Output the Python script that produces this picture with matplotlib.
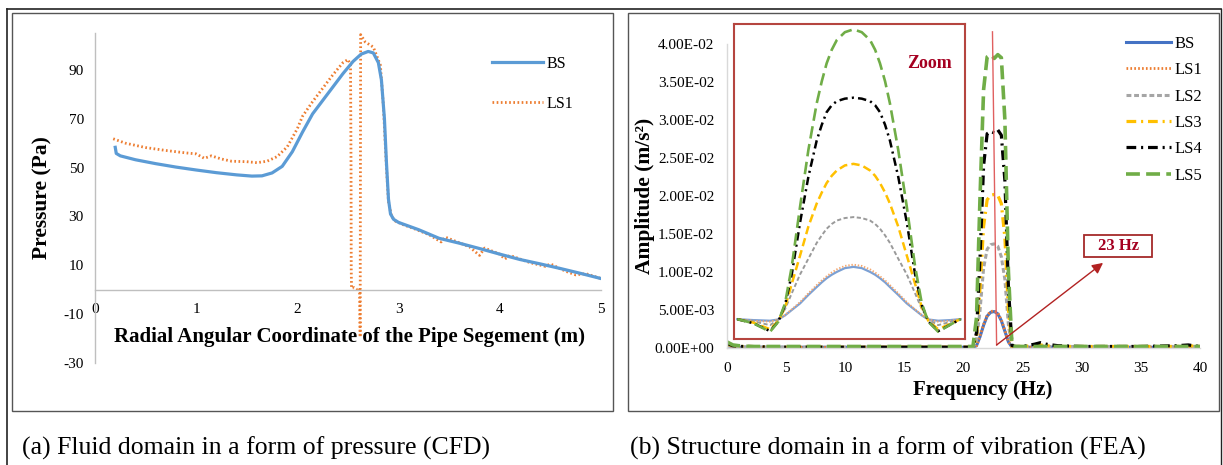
import matplotlib
matplotlib.use("Agg")
import matplotlib.pyplot as plt
from matplotlib.lines import Line2D
from matplotlib.patches import Rectangle

plt.rcParams['font.family'] = ['Liberation Serif', 'DejaVu Serif']
plt.rcParams['lines.scale_dashes'] = False
plt.rcParams['axes.unicode_minus'] = False

# ---------------- data: (a) pressure along pipe segment ----------------
bs_x = [0.20, 0.21, 0.25, 0.4, 0.6, 0.8, 1.0, 1.2, 1.4, 1.55, 1.65, 1.75, 1.85, 1.95,
        2.05, 2.15, 2.25, 2.35, 2.45, 2.55, 2.63, 2.70, 2.75, 2.80, 2.83, 2.86, 2.88,
        2.90, 2.92, 2.95, 3.0, 3.2, 3.4, 3.6, 3.8, 4.0, 4.2, 4.4, 4.6, 4.8, 5.0]
bs_y = [58.3, 55.8, 54.8, 53.2, 51.6, 50.2, 49.0, 47.9, 47.0, 46.5, 46.6, 47.8, 50.5, 56.5,
        64.5, 72.0, 77.5, 83.0, 88.5, 93.5, 96.5, 97.6, 97.0, 93.0, 86.0, 70.0, 52.0,
        37.0, 31.0, 28.8, 27.5, 24.5, 21.0, 19.0, 16.8, 14.5, 12.3, 10.5, 8.6, 6.6, 4.5]

ls1_x = [0.18, 0.3, 0.5, 0.7, 0.9, 1.0, 1.08, 1.15, 1.25, 1.35, 1.5, 1.6, 1.7, 1.8, 1.9,
         2.0, 2.05, 2.15, 2.25, 2.35, 2.45, 2.50, 2.525, 2.53, 2.532, 2.535, 2.56, 2.59,
         2.615, 2.62, 2.625, 2.67, 2.75, 2.82, 2.85, 2.88, 2.90, 2.93, 2.97, 3.05, 3.15,
         3.3, 3.42, 3.46, 3.55, 3.7, 3.8, 3.85, 4.0, 4.05, 4.1, 4.3, 4.45, 4.5, 4.65,
         4.75, 4.85, 5.0]
ls1_y = [61.8, 60.0, 58.2, 57.0, 56.0, 55.6, 53.8, 54.8, 53.5, 52.6, 52.4, 52.0, 52.6, 54.5,
         58.5, 66.0, 71.0, 77.0, 82.5, 88.0, 93.0, 94.3, 92.0, 50.0, 8.0, 0.5, 0.8, 0.0,
         0.5, -19.5, 104.5, 101.5, 99.4, 92.0, 75.0, 50.0, 36.0, 30.0, 28.0, 26.5, 25.0,
         22.5, 19.5, 21.5, 20.0, 17.5, 14.0, 17.0, 14.5, 12.5, 14.0, 11.0, 9.5, 10.5, 7.5,
         6.0, 6.5, 4.5]

press_yticks = [-30, -10, 10, 30, 50, 70, 90]
press_xticks = [0, 1, 2, 3, 4, 5]

# ---------------- data: (b) vibration spectrum ----------------
freq = [0, 0.5, 1, 2, 4, 6, 8, 10, 12, 14, 16, 18, 20, 20.8, 21.1, 21.4, 21.7, 22.0,
        22.3, 22.6, 22.9, 23.2, 23.5, 23.8, 24.1, 24.4, 25, 26, 26.5, 27, 28, 30, 32,
        35, 38, 39, 40]
amp_bs = [0.0003, 0.0002, 0.0001, 0.0001, 0.0001, 0.0001, 0.0001, 0.0001, 0.0001, 0.0001,
          0.0001, 0.0001, 0.0001, 0.0001, 0.0003, 0.0015, 0.0030, 0.0042, 0.0047, 0.0048,
          0.0045, 0.0036, 0.0022, 0.0008, 0.0001, 0.0001, 0.0001, 0.0001, 0.0001, 0.0001,
          0.0001, 0.0001, 0.0001, 0.0001, 0.0001, 0.0001, 0.0001]
amp_ls1 = [0.0003, 0.0002, 0.0001, 0.0001, 0.0001, 0.0001, 0.0001, 0.0001, 0.0001, 0.0001,
           0.0001, 0.0001, 0.0001, 0.0001, 0.0003, 0.0016, 0.0031, 0.0043, 0.0048, 0.0049,
           0.0046, 0.0037, 0.0023, 0.0008, 0.0001, 0.0001, 0.0001, 0.0001, 0.0001, 0.0001,
           0.0001, 0.0001, 0.0001, 0.0001, 0.0001, 0.0001, 0.0001]
amp_ls2 = [0.0004, 0.0002, 0.0002, 0.0001, 0.0001, 0.0001, 0.0001, 0.0001, 0.0001, 0.0001,
           0.0001, 0.0001, 0.0001, 0.0001, 0.0010, 0.0050, 0.0105, 0.0130, 0.0136, 0.0137,
           0.0134, 0.0120, 0.0090, 0.0030, 0.0001, 0.0001, 0.0002, 0.0002, 0.0003, 0.0002,
           0.0002, 0.0002, 0.0002, 0.0002, 0.0002, 0.0002, 0.0002]
amp_ls3 = [0.0005, 0.0003, 0.0002, 0.0002, 0.0001, 0.0001, 0.0001, 0.0001, 0.0001, 0.0001,
           0.0001, 0.0001, 0.0001, 0.0001, 0.0014, 0.0080, 0.0160, 0.0195, 0.0201, 0.0202,
           0.0201, 0.0190, 0.0145, 0.0050, 0.0002, 0.0002, 0.0002, 0.0003, 0.0004, 0.0003,
           0.0002, 0.0002, 0.0002, 0.0002, 0.0002, 0.0003, 0.0002]
amp_ls4 = [0.0006, 0.0003, 0.0002, 0.0002, 0.0001, 0.0001, 0.0001, 0.0001, 0.0001, 0.0001,
           0.0001, 0.0001, 0.0001, 0.0001, 0.0020, 0.0120, 0.0240, 0.0282, 0.0285, 0.0283,
           0.0287, 0.0280, 0.0220, 0.0080, 0.0003, 0.0002, 0.0002, 0.0005, 0.0007, 0.0005,
           0.0003, 0.0002, 0.0002, 0.0002, 0.0003, 0.0004, 0.0002]
amp_ls5 = [0.0008, 0.0004, 0.0003, 0.0002, 0.0002, 0.0002, 0.0002, 0.0002, 0.0002, 0.0002,
           0.0002, 0.0002, 0.0002, 0.0002, 0.0040, 0.0200, 0.0340, 0.0383, 0.0386, 0.0381,
           0.0386, 0.0382, 0.0300, 0.0100, 0.0003, 0.0002, 0.0002, 0.0002, 0.0002, 0.0002,
           0.0002, 0.0002, 0.0002, 0.0002, 0.0002, 0.0002, 0.0002]

amp_ticks = [0, 0.005, 0.01, 0.015, 0.02, 0.025, 0.03, 0.035, 0.04]
freq_ticks = [0, 5, 10, 15, 20, 25, 30, 35, 40]

# zoom window: relative position across window and relative amplitude (scaled view)
zoom_pos = [0.014, 0.084, 0.156, 0.192, 0.221, 0.250, 0.286, 0.322, 0.358, 0.380, 0.401,
            0.423, 0.445, 0.480, 0.517, 0.553, 0.589, 0.611, 0.632, 0.654, 0.675, 0.711,
            0.748, 0.784, 0.813, 0.841, 0.884, 0.935, 0.981]
zoom_ls5 = [0.063, 0.050, 0.023, 0.055, 0.113, 0.230, 0.420, 0.600, 0.748, 0.818, 0.875,
            0.918, 0.949, 0.974, 0.983, 0.974, 0.949, 0.918, 0.875, 0.818, 0.748, 0.600,
            0.420, 0.230, 0.113, 0.055, 0.023, 0.045, 0.063]
zoom_ls4 = [0.063, 0.050, 0.025, 0.056, 0.108, 0.205, 0.370, 0.515, 0.630, 0.680, 0.720,
            0.742, 0.755, 0.763, 0.766, 0.763, 0.755, 0.742, 0.720, 0.680, 0.630, 0.515,
            0.370, 0.205, 0.108, 0.056, 0.025, 0.045, 0.063]
zoom_ls3 = [0.063, 0.052, 0.031, 0.058, 0.100, 0.175, 0.265, 0.357, 0.430, 0.465, 0.495,
            0.518, 0.535, 0.551, 0.556, 0.551, 0.535, 0.518, 0.495, 0.465, 0.430, 0.357,
            0.265, 0.175, 0.100, 0.058, 0.031, 0.048, 0.063]
zoom_ls2 = [0.063, 0.056, 0.044, 0.062, 0.095, 0.145, 0.205, 0.255, 0.305, 0.329, 0.350,
            0.365, 0.376, 0.384, 0.387, 0.384, 0.376, 0.365, 0.350, 0.329, 0.305, 0.255,
            0.205, 0.145, 0.095, 0.062, 0.044, 0.054, 0.063]
zoom_ls1 = [0.063, 0.058, 0.055, 0.062, 0.076, 0.094, 0.117, 0.145, 0.171, 0.186, 0.199,
            0.211, 0.221, 0.232, 0.236, 0.232, 0.221, 0.211, 0.199, 0.186, 0.171, 0.145,
            0.117, 0.094, 0.076, 0.062, 0.055, 0.058, 0.063]
zoom_bs = [0.063, 0.060, 0.058, 0.062, 0.075, 0.092, 0.113, 0.140, 0.165, 0.180, 0.193,
           0.204, 0.213, 0.225, 0.229, 0.225, 0.213, 0.204, 0.193, 0.180, 0.165, 0.140,
           0.113, 0.092, 0.075, 0.062, 0.058, 0.060, 0.063]

# annotation: 23 Hz marker line and callout
marker_freq = [22.45, 22.8]
marker_amp = [0.0416, 0.0004]
callout_from = (22.8, 0.0004)
callout_to = (31.8, 0.0112)
callout_box = (30.2, 0.0120, 5.75, 0.0029)   # x, y, width, height in data units

# ---------------- figure ----------------
W, H = 1223, 465
fig = plt.figure(figsize=(W / 100, H / 100), dpi=100)


def fx(px):
    return px / W


def fy(py):
    return 1 - py / H


# outer frame and panel borders
fig.add_artist(Line2D([fx(7), fx(7)], [fy(9), 0], color='#222222', lw=1.2))
fig.add_artist(Line2D([fx(7), fx(1221)], [fy(9), fy(9)], color='#222222', lw=1.2))
fig.add_artist(Line2D([fx(1221), fx(1221)], [fy(9), 0], color='#222222', lw=1.0))
for (l, r) in [(12, 613), (628, 1219)]:
    fig.add_artist(Rectangle((fx(l), fy(411)), fx(r) - fx(l), fy(13) - fy(411),
                             transform=fig.transFigure, fill=False,
                             ec='#555555', lw=1.0))

serif_bold = dict(fontweight='bold', color='black')

# ---------------- panel (a) ----------------
axL = fig.add_axes([fx(95), fy(362.7), fx(601) - fx(95), fy(33.4) - fy(362.7)])
axL.plot(ls1_x, ls1_y, color='#ED7D31', lw=2.0, dashes=(1.2, 1.8), label='LS1', zorder=2)
axL.plot(bs_x, bs_y, color='#5B9BD5', lw=2.3, label='BS', zorder=3)
axL.set_xlim(0, 5)
axL.set_ylim(-30, 105)
axL.spines['bottom'].set_position(('data', 0))
for s in ['top', 'right']:
    axL.spines[s].set_visible(False)
for s in ['left', 'bottom']:
    axL.spines[s].set_color('#BFBFBF')
    axL.spines[s].set_linewidth(1.0)
axL.set_xticks(press_xticks)
axL.set_yticks(press_yticks)
axL.tick_params(axis='both', length=0, labelsize=11)
axL.tick_params(axis='x', pad=10)
axL.tick_params(axis='y', pad=8)
h, lab = axL.get_legend_handles_labels()
axL.legend([h[1], h[0]], [lab[1], lab[0]], loc='upper left',
           bbox_to_anchor=(fx(492), fy(56)), bbox_transform=fig.transFigure,
           frameon=False, fontsize=11.5, handlelength=3.2, handletextpad=0.2,
           labelspacing=1.5, borderpad=0, borderaxespad=0)

fig.text(fx(350), fy(337), 'Radial Angular Coordinate of the Pipe Segement (m)',
         ha='center', va='center', fontsize=15, **serif_bold)
fig.text(fx(42), fy(198), 'Pressure (Pa)', rotation=90, ha='center', va='center',
         fontsize=15.5, **serif_bold)

# ---------------- panel (b) ----------------
axR = fig.add_axes([fx(727), fy(348), fx(1200) - fx(727), fy(44) - fy(348)])
series = [
    ('BS', amp_bs, dict(color='#4472C4', lw=2.2)),
    ('LS1', amp_ls1, dict(color='#ED7D31', lw=2.0, dashes=(1.2, 1.6))),
    ('LS2', amp_ls2, dict(color='#A5A5A5', lw=2.2, dashes=(3.5, 2))),
    ('LS3', amp_ls3, dict(color='#FFC000', lw=2.3, dashes=(7, 3.5, 1.5, 3.5))),
    ('LS4', amp_ls4, dict(color='#000000', lw=2.3, dashes=(7, 3.5, 1.5, 3.5))),
    ('LS5', amp_ls5, dict(color='#70AD47', lw=2.6, dashes=(10, 4.5))),
]
for name, vals, st in series:
    axR.plot(freq, vals, label=name, **st)
axR.set_xlim(0, 40)
axR.set_ylim(0, 0.04)
for s in ['top', 'right']:
    axR.spines[s].set_visible(False)
for s in ['left', 'bottom']:
    axR.spines[s].set_color('#D9D9D9')
    axR.spines[s].set_linewidth(1.0)
axR.set_xticks(freq_ticks)
axR.set_yticks(amp_ticks)
axR.set_yticklabels([f'{v:.2E}' for v in amp_ticks])
axR.tick_params(axis='both', length=0, labelsize=11)
axR.tick_params(axis='x', pad=10)
axR.tick_params(axis='y', pad=9)
axR.legend(loc='upper left', bbox_to_anchor=(fx(1126), fy(36)),
           bbox_transform=fig.transFigure, frameon=False, fontsize=12,
           handlelength=2.7, handletextpad=0.2, labelspacing=0.62,
           borderpad=0, borderaxespad=0)

fig.text(fx(983), fy(390), 'Frequency (Hz)', ha='center', va='center', fontsize=15,
         **serif_bold)
fig.text(fx(645), fy(196), 'Amplitude (m/s²)', rotation=90, ha='center', va='center',
         fontsize=15.5, **serif_bold)

# 23 Hz marker line, callout arrow and box
axR.plot(marker_freq, marker_amp, color='#E06060', lw=1.0, clip_on=False, zorder=5)
axR.annotate('', xy=callout_to, xytext=callout_from,
             arrowprops=dict(arrowstyle='-|>', color='#B22222', lw=1.0,
                             mutation_scale=16, shrinkA=0, shrinkB=0), zorder=6)
bx, by, bw, bh = callout_box
axR.add_patch(Rectangle((bx, by), bw, bh, fc='white', ec='#A52A2A', lw=1.3,
                        clip_on=False, zorder=6))
axR.text(bx + bw / 2, by + bh / 2, '23 Hz', ha='center', va='center', fontsize=12,
         fontweight='bold', color='#A50021', zorder=7)

# zoom window
axZ = fig.add_axes([fx(734), fy(339), fx(965) - fx(734), fy(24) - fy(339)])
axZ.set_facecolor('white')
zoom_series = [
    (zoom_bs, dict(color='#7BA0D4', lw=1.6)),
    (zoom_ls1, dict(color='#F4A76F', lw=1.4, dashes=(1, 1.3))),
    (zoom_ls2, dict(color='#9A9A9A', lw=1.4, dashes=(3, 1.8))),
    (zoom_ls3, dict(color='#FFC000', lw=1.8, dashes=(6, 3))),
    (zoom_ls4, dict(color='#000000', lw=1.8, dashes=(6, 3, 1.5, 3))),
    (zoom_ls5, dict(color='#70AD47', lw=1.9, dashes=(9, 4))),
]
for vals, st in zoom_series:
    axZ.plot(zoom_pos, vals, **st)
axZ.set_xlim(0, 1)
axZ.set_ylim(0, 1)
axZ.set_xticks([])
axZ.set_yticks([])
for s in axZ.spines.values():
    s.set_color('#B5453F')
    s.set_linewidth(1.5)
axZ.text(0.845, 0.875, 'Zoom', transform=axZ.transAxes, ha='center', va='center',
         fontsize=13, fontweight='bold', color='#A50021')

# captions
fig.text(fx(22), fy(455), '(a) Fluid domain in a form of pressure (CFD)',
         ha='left', va='baseline', fontsize=18.5)
fig.text(fx(630), fy(455), '(b) Structure domain in a form of vibration (FEA)',
         ha='left', va='baseline', fontsize=18.5)

fig.savefig('out.png', dpi=100)
